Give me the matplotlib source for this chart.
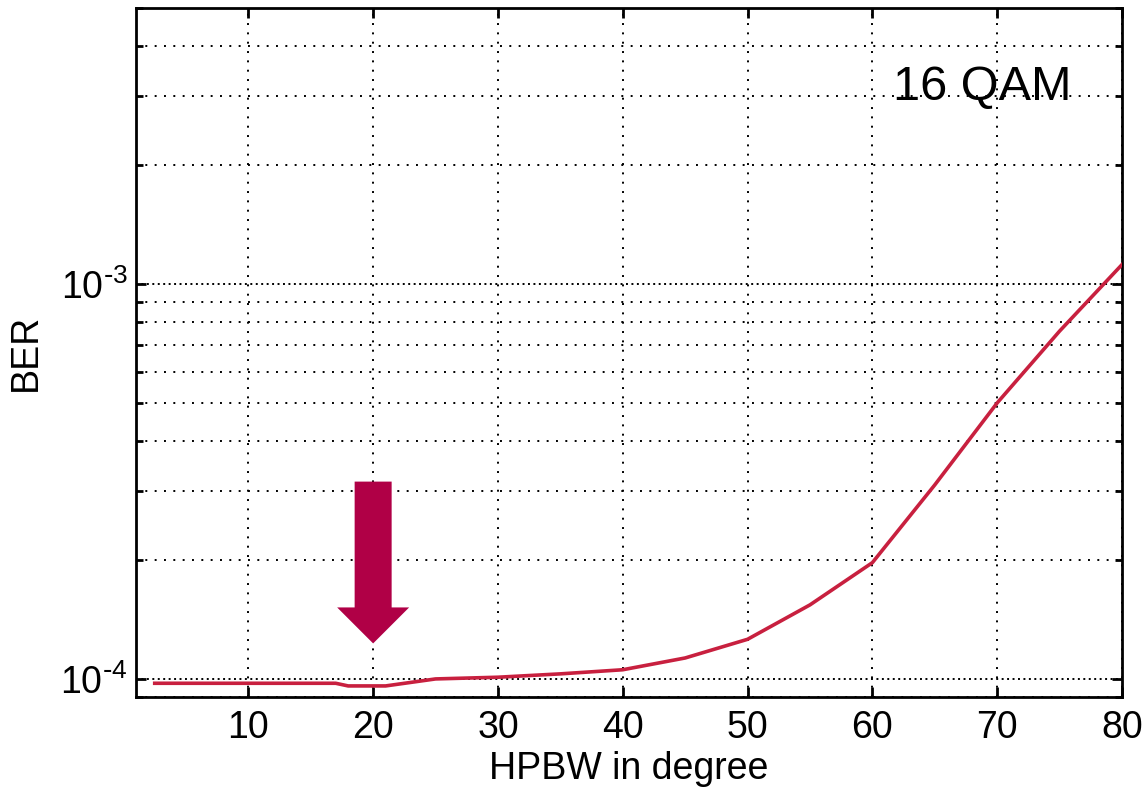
import math
import matplotlib.pyplot as plt
from matplotlib.ticker import FixedLocator, FuncFormatter, LogLocator, NullFormatter

plt.rcParams['font.family'] = ['Liberation Sans', 'DejaVu Sans']

# BER vs half-power beamwidth, 16 QAM
hpbw = [2.5, 10, 17, 18, 21, 25, 30, 35, 40, 45, 50, 55, 60, 65, 70, 75, 80]
ber = [9.75e-5, 9.75e-5, 9.75e-5, 9.6e-5, 9.6e-5, 1.0e-4, 1.01e-4, 1.03e-4,
       1.055e-4, 1.13e-4, 1.26e-4, 1.54e-4, 1.97e-4, 3.1e-4, 5.0e-4,
       7.6e-4, 1.12e-3]

x_ticks = [10, 20, 30, 40, 50, 60, 70, 80]
# marker arrow pointing at the chosen beamwidth
arrow_x = 20
arrow_tip = 1.23e-4
arrow_tail = 3.16e-4

line_color = '#c8203f'
arrow_color = '#b00046'


def decade_label(v, pos):
    # plain hyphen in the exponent, like the MATLAB export
    return r'$\mathregular{10^{\text{-}%d}}$' % abs(round(math.log10(v)))


fig = plt.figure(figsize=(11.44, 7.9), dpi=100)
ax = fig.add_axes([136 / 1144, 1 - 697 / 790, 986 / 1144, 689 / 790])

ax.semilogy(hpbw, ber, color=line_color, lw=2.6, zorder=3)

ax.set_xlim(1, 80)
ax.set_ylim(9e-5, 5e-3)
ax.xaxis.set_major_locator(FixedLocator(x_ticks))
ax.yaxis.set_major_locator(LogLocator(base=10, numticks=10))
ax.yaxis.set_minor_locator(LogLocator(base=10, subs=range(2, 10), numticks=10))
ax.yaxis.set_minor_formatter(NullFormatter())
ax.yaxis.set_major_formatter(FuncFormatter(decade_label))

ax.grid(True, which='major', axis='x', color='black', ls=(0, (1, 3.8)), lw=1.4)
ax.grid(True, which='minor', axis='y', color='black', ls=(0, (1, 3.8)), lw=1.4)
ax.grid(True, which='major', axis='y', color='black', ls=(0, (1, 1.8)), lw=1.4)

ax.tick_params(which='both', direction='in', top=True, right=True,
               labelsize=27, width=2)
ax.tick_params(axis='x', pad=9)
ax.tick_params(axis='y', pad=6)
ax.tick_params(which='major', length=7)
ax.tick_params(which='minor', length=5)
for s in ax.spines.values():
    s.set_linewidth(2)

ax.set_xlabel('HPBW in degree', fontsize=27, labelpad=4)
ax.set_ylabel('BER', fontsize=27, labelpad=12)

ax.text(0.768, 0.866, '16 QAM', transform=ax.transAxes, fontsize=35,
        va='baseline', ha='left')

ax.annotate('', xy=(arrow_x, arrow_tip), xytext=(arrow_x, arrow_tail),
            arrowprops=dict(arrowstyle='simple,head_length=0.72,head_width=1.44,tail_width=0.74',
                            color=arrow_color, lw=0, shrinkA=0, shrinkB=0,
                            mutation_scale=36),
            zorder=4)

fig.savefig('out.png', dpi=100)
